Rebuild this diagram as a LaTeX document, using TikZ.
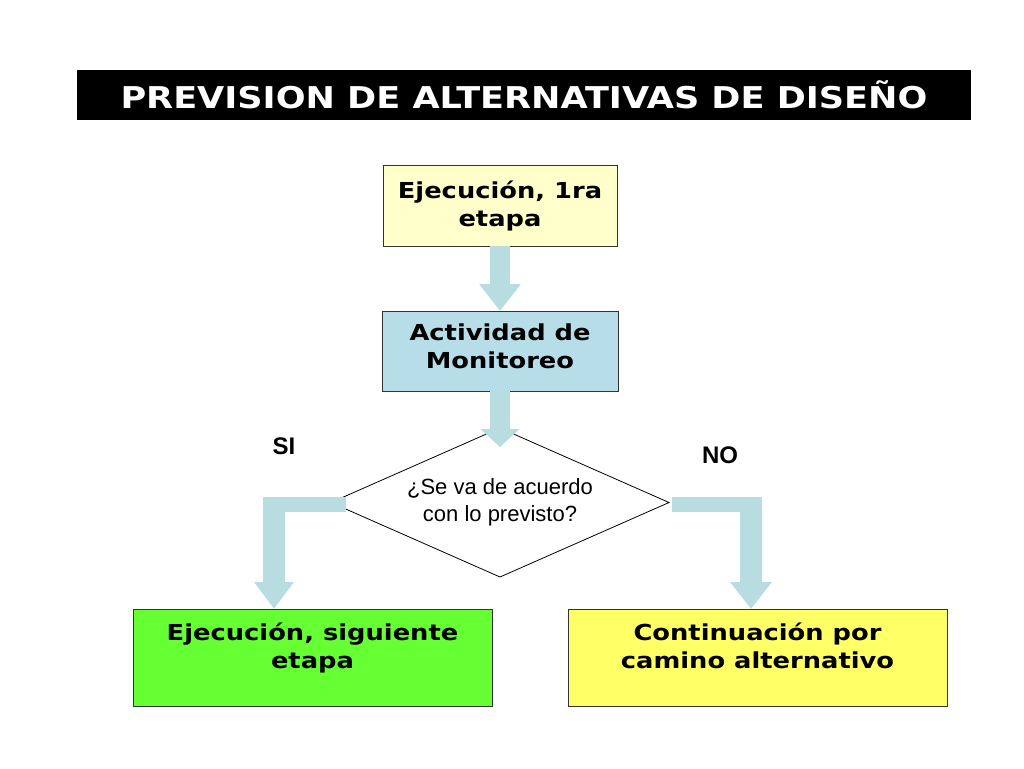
\documentclass[tikz,border=0pt]{standalone}
\usepackage{fontspec}
\setmainfont[FakeStretch=1.17]{DejaVu Sans}
\newfontfamily\arial{Liberation Sans}
\usetikzlibrary{positioning,shapes.geometric,arrows.meta}
\definecolor{celeste}{HTML}{B7DDE0}
\definecolor{celestecaja}{HTML}{B7DEE8}
\definecolor{amarilloclaro}{HTML}{FFFFCC}
\definecolor{verde}{HTML}{66FF33}
\definecolor{amarillo}{HTML}{FFFF66}

\begin{document}
\begin{tikzpicture}[x=1pt,y=-1pt,
caja/.style={rectangle, draw=black!80, line width=0.8pt, align=center, inner sep=0pt, outer sep=0pt, font=\bfseries\fontsize{22}{28}\selectfont},
decision/.style={diamond, draw=black, line width=0.8pt, aspect=2.26, minimum width=338pt, minimum height=149pt, inner sep=0pt, outer sep=0pt, align=center, font=\arial\fontsize{22}{27}\selectfont},
flecha/.style={draw=celeste, line width=20pt, -{Triangle[length=27pt,width=40pt]}},
barra/.style={draw=celeste, line width=15pt},
etiqueta/.style={font=\arial\bfseries\fontsize{24}{28}\selectfont},
]
\useasboundingbox (0,0) rectangle (1024,768);
%Nodes
\node[fill=black, text=white, minimum width=894pt, minimum height=50pt, inner sep=0pt, font=\bfseries\fontsize{30}{36}\selectfont] (titulo) at (524,95) {PREVISION DE ALTERNATIVAS DE DISEÑO};
\node[caja, fill=amarilloclaro, minimum width=234pt, minimum height=81pt] (ejecucion_1) at (500,205.5) {Ejecución, 1ra\\etapa};
\node[caja, fill=celestecaja, minimum width=236pt, minimum height=80pt, text depth=9pt] (monitoreo) [below=65pt of ejecucion_1] {Actividad de\\Monitoreo};
\node[decision]  (pregunta)    [below=37pt of monitoreo] {¿Se va de acuerdo\\con lo previsto?};
\node[caja, fill=verde, minimum width=359pt, minimum height=97pt, text depth=24pt] (siguiente) at (312.5,657.5) {Ejecución, siguiente\\etapa};
\node[caja, fill=amarillo, minimum width=379pt, minimum height=97pt, text depth=24pt] (alternativo) at (757.5,657.5) {Continuación por\\camino alternativo};
\node[etiqueta]  (si)          at (284,446) {SI};
\node[etiqueta]  (no)          at (720,455) {NO};

\coordinate (codo_si) at (274,504);
\coordinate (codo_no) at (751,504);

%Lines
\draw[flecha] (ejecucion_1.south) -- (monitoreo.north);
\draw[flecha, -{Triangle[length=18pt,width=38pt]}] (monitoreo.south) -- ([yshift=-19pt]pregunta.north);
\draw[barra] ([xshift=15pt,yshift=-1.5pt]pregunta.west) -- ([xshift=-11pt]codo_si);
\draw[flecha, line width=22pt, -{Triangle[length=27pt,width=38pt]}] ([yshift=7.5pt]codo_si) -- (codo_si |- siguiente.north);
\draw[barra] ([xshift=3pt,yshift=-1.5pt]pregunta.east) -- ([xshift=11pt]codo_no);
\draw[flecha, line width=22pt, -{Triangle[length=27pt,width=40pt]}] ([yshift=7.5pt]codo_no) -- (codo_no |- alternativo.north);

\end{tikzpicture}
\end{document}
